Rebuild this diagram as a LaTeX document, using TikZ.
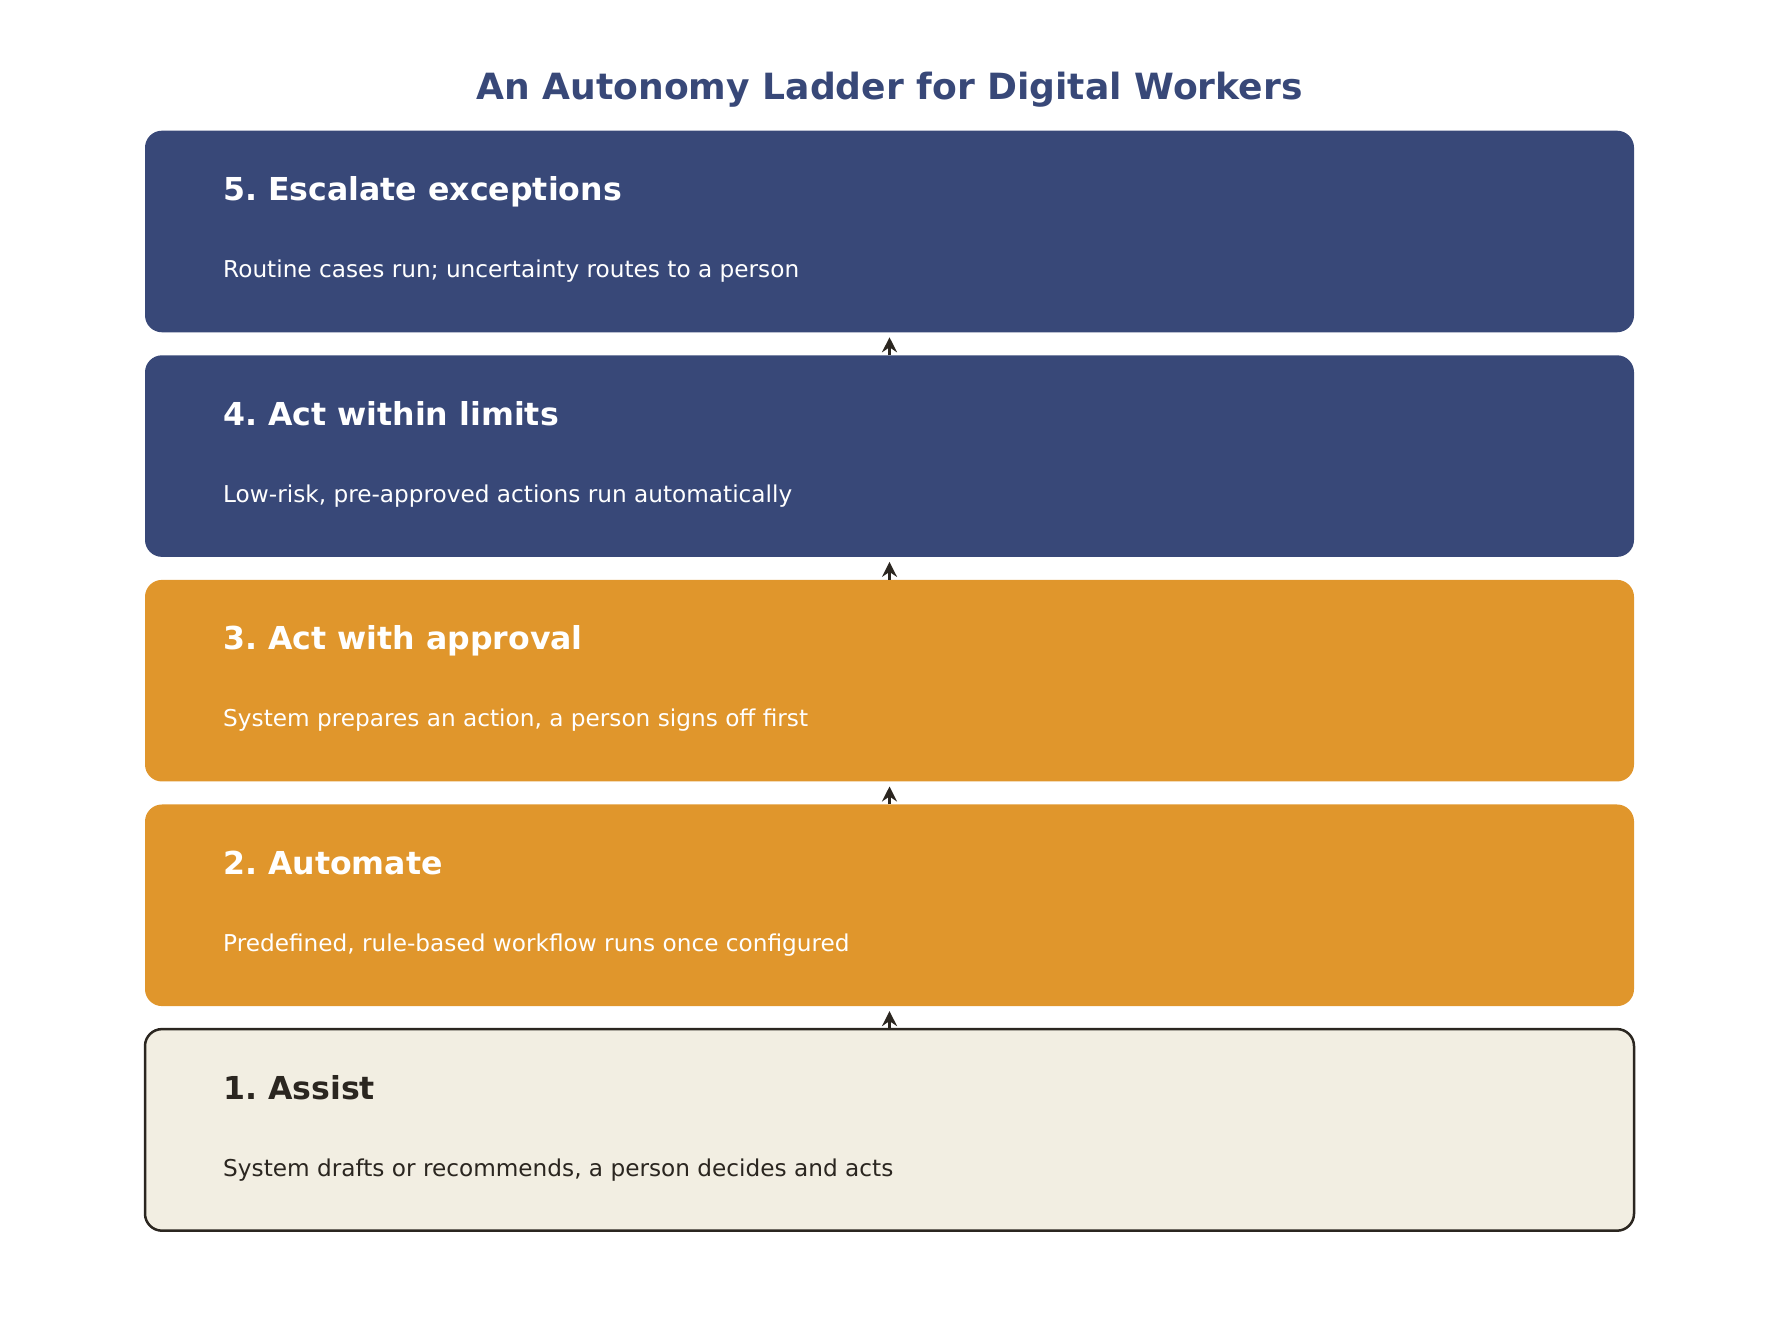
\documentclass[tikz,border=0pt]{standalone}
\usepackage{fontspec}
\setmainfont{DejaVu Sans}
\frenchspacing
\usetikzlibrary{arrows.meta}

\definecolor{laddernavy}{HTML}{384878}
\definecolor{ladderorange}{HTML}{E0962C}
\definecolor{laddercream}{HTML}{F2EEE2}
\definecolor{ladderdark}{HTML}{2B2620}

\tikzset{
	rung/.style={rectangle, rounded corners=17pt, minimum width=1489pt,
		minimum height=201.6pt, inner sep=0pt, outer sep=0pt},
	navyrung/.style={rung, fill=laddernavy},
	orangerung/.style={rung, fill=ladderorange},
	creamrung/.style={rung, fill=laddercream, draw=ladderdark, line width=2.5pt},
	heading/.style={anchor=base west, inner sep=0pt, text=white,
		font=\fontsize{31.6}{36}\bfseries\selectfont},
	detail/.style={anchor=base west, inner sep=0pt, text=white,
		font=\fontsize{23.2}{27}\selectfont},
	ladderarrow/.style={draw=ladderdark, line width=3pt,
		-{Stealth[length=15pt,width=15pt,inset=5pt]}}
}

\begin{document}
\begin{tikzpicture}[x=1pt,y=1pt]

	\useasboundingbox (0,0) rectangle (1779,1340);

	\node[anchor=base, inner sep=0pt, text=laddernavy,
		font=\fontsize{36.1}{42}\bfseries\selectfont] (title) at (889.5,1240)
		{An Autonomy Ladder for Digital Workers};

	% rungs, top to bottom
	\node[navyrung] (r5) at (889.5,1108.5) {};
	\node[navyrung] (r4) at (889.5,883.9) {};
	\node[orangerung] (r3) at (889.5,659.3) {};
	\node[orangerung] (r2) at (889.5,434.7) {};
	\node[creamrung] (r1) at (889.5,210.1) {};

	\node[heading] (h5) at ([xshift=78pt,yshift=30.8pt]r5.west) {5. Escalate exceptions};
	\node[detail] (d5) at ([xshift=78pt,yshift=-46.2pt]r5.west) {Routine cases run; uncertainty routes to a person};

	\node[heading] (h4) at ([xshift=78pt,yshift=30.8pt]r4.west) {4. Act within limits};
	\node[detail] (d4) at ([xshift=78pt,yshift=-46.2pt]r4.west) {Low-risk, pre-approved actions run automatically};

	\node[heading] (h3) at ([xshift=78pt,yshift=30.8pt]r3.west) {3. Act with approval};
	\node[detail] (d3) at ([xshift=78pt,yshift=-46.2pt]r3.west) {System prepares an action, a person signs off first};

	\node[heading] (h2) at ([xshift=78pt,yshift=30.8pt]r2.west) {2. Automate};
	\node[detail] (d2) at ([xshift=78pt,yshift=-46.2pt]r2.west) {Predefined, rule-based workflow runs once configured};

	\node[heading, text=ladderdark] (h1) at ([xshift=78pt,yshift=30.8pt]r1.west) {1. Assist};
	\node[detail, text=ladderdark] (d1) at ([xshift=78pt,yshift=-46.2pt]r1.west) {System drafts or recommends, a person decides and acts};

	% arrows up the ladder
	\draw[ladderarrow] (r1.north) -- ([yshift=-5pt]r2.south);
	\draw[ladderarrow] (r2.north) -- ([yshift=-5pt]r3.south);
	\draw[ladderarrow] (r3.north) -- ([yshift=-5pt]r4.south);
	\draw[ladderarrow] (r4.north) -- ([yshift=-5pt]r5.south);

\end{tikzpicture}
\end{document}
